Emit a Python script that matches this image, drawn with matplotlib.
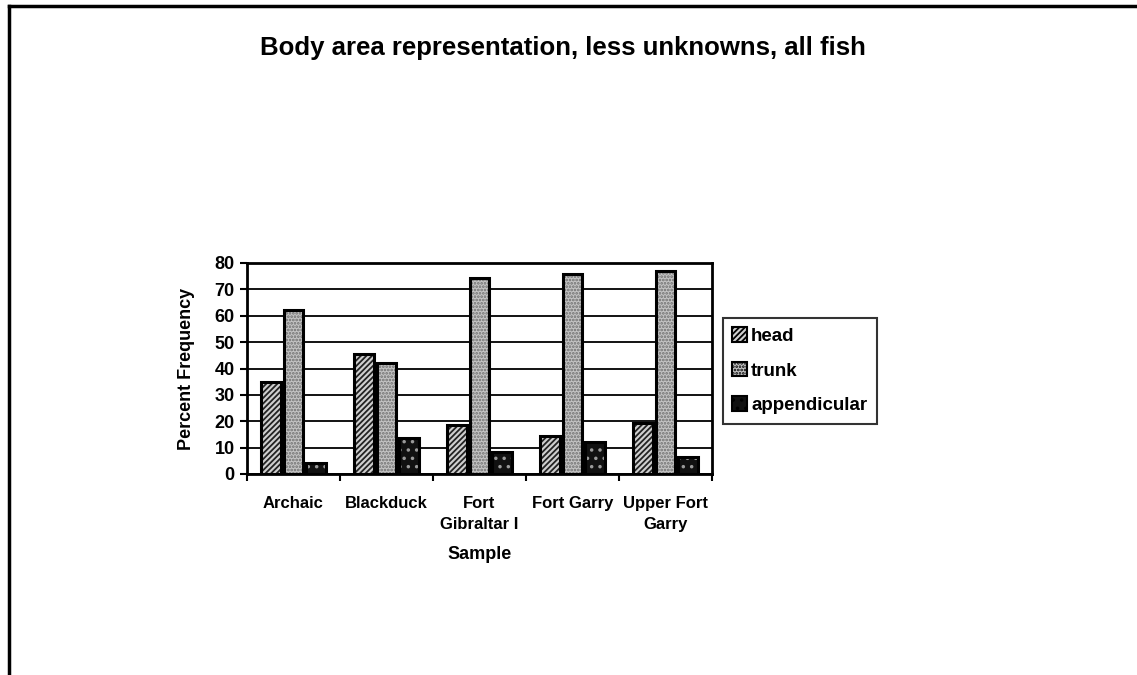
import matplotlib.pyplot as plt
import numpy as np
from matplotlib.lines import Line2D

plt.rcParams['font.family'] = ['Liberation Sans', 'DejaVu Sans']
plt.rcParams['font.weight'] = 'bold'
plt.rcParams['hatch.linewidth'] = 1.3

SAMPLES = ["Archaic", "Blackduck", "Fort\nGibraltar I", "Fort Garry", "Upper Fort\nGarry"]
HEAD = [35, 45.5, 18.5, 14.5, 19.5]
TRUNK = [62, 42, 74.5, 76, 77]
APPENDICULAR = [4, 13.5, 8.5, 12, 6.5]
Y_TICKS = [0, 10, 20, 30, 40, 50, 60, 70, 80]

fig = plt.figure(figsize=(11.37, 6.75), dpi=100)
W, H = 1137, 675
ax = fig.add_axes([247 / W, 1 - 474 / H, (712 - 247) / W, (474 - 263) / H])

x = np.arange(len(SAMPLES))
width = 0.215
offset = 0.245

# face + hatch first, then an outline on top
styles = [
    (HEAD, -offset, "#cfcfcf", "//////", "#222222", "head"),
    (TRUNK, 0, "#c4c4c4", ".....", "#6e6e6e", "trunk"),
    (APPENDICULAR, offset, "#111111", "..", "#9a9a9a", "appendicular"),
]
handles = []
for vals, off, face, hatch, hcol, name in styles:
    ax.bar(x + off, vals, width, color=face, hatch=hatch, edgecolor=hcol, linewidth=0, zorder=3)
    ax.bar(x + off, vals, width, fill=False, edgecolor="black", linewidth=2.2, zorder=4)
    handles.append(plt.Rectangle((0, 0), 1, 1, facecolor=face, hatch=hatch, edgecolor="black", linewidth=1.5))

ax.set_xlim(-0.5, len(SAMPLES) - 0.5)
ax.set_ylim(0, 80)
ax.set_yticks(Y_TICKS)
ax.set_yticklabels([str(t) for t in Y_TICKS], fontsize=13, fontweight="bold")
ax.set_xticks(x)
ax.set_xticklabels(SAMPLES, fontsize=12, fontweight="bold", va="top", linespacing=1.5)
ax.tick_params(axis="x", length=0, pad=16)
ax.set_xticks(np.arange(len(SAMPLES) + 1) - 0.5, minor=True)
ax.tick_params(axis="x", which="minor", length=5, width=1.5, direction="out")
ax.tick_params(axis="y", length=5, width=1.5, direction="out", pad=4)
ax.yaxis.grid(True, color="black", linewidth=1.3, zorder=0)
ax.set_axisbelow(True)
for s in ax.spines.values():
    s.set_linewidth(2)

ax.set_ylabel("Percent Frequency", fontsize=13, fontweight="bold", labelpad=14)
ax.set_xlabel("Sample", fontsize=13, fontweight="bold", labelpad=10)

fig.text(563 / W, 1 - 48 / H, "Body area representation, less unknowns, all fish",
         ha="center", va="center", fontsize=18.5, fontweight="bold")

leg = fig.legend(handles, [s[5] for s in styles], loc="upper left",
                 bbox_to_anchor=(723 / W, 1 - 318 / H), fontsize=13.5,
                 handlelength=0.8, handleheight=0.8, handletextpad=0.2,
                 labelspacing=0.9, borderpad=0.5, borderaxespad=0, frameon=True, fancybox=False)
leg.get_frame().set_edgecolor("black")
leg.get_frame().set_linewidth(1.5)

# page border lines from the scan
fig.add_artist(Line2D([9 / W, 1], [1 - 6 / H, 1 - 6 / H], color="black", linewidth=2.5))
fig.add_artist(Line2D([9 / W, 9 / W], [0, 1 - 6 / H], color="black", linewidth=2.5))

fig.savefig("out.png", dpi=100)
